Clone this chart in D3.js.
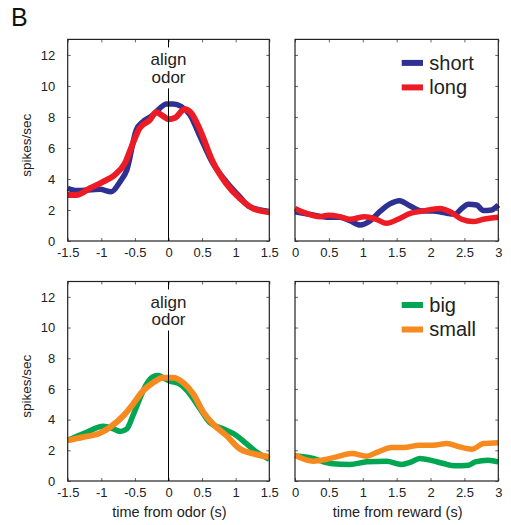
<!DOCTYPE html>
<html>
<head>
<meta charset="utf-8">
<script src="https://cdn.jsdelivr.net/npm/d3@7"></script>
<style>
  body { margin: 0; background: #fff; }
  svg { display: block; font-family: "Liberation Sans", Arial, sans-serif; }
</style>
</head>
<body>
<div id="app"></div>
<script>
// values (time in s, rate in spikes/sec)
const shortOdorT = [-1.5, -1.37, -1.02, -0.85, -0.72, -0.62, -0.48, -0.38, -0.23, -0.13, -0.03, 0.07, 0.19, 0.32, 0.47, 0.66, 0.86, 1.06, 1.21, 1.5];
const shortOdorR = [3.4, 3.25, 3.33, 3.18, 3.83, 4.58, 7.16, 7.7, 8.13, 8.56, 8.84, 8.84, 8.67, 8.13, 6.73, 5.0, 3.83, 2.86, 2.2, 1.9];
const longOdorT = [-1.5, -1.37, -1.17, -0.97, -0.8, -0.65, -0.53, -0.43, -0.28, -0.18, -0.08, 0.0, 0.1, 0.24, 0.34, 0.47, 0.66, 0.86, 1.06, 1.26, 1.5];
const longOdorR = [2.97, 2.97, 3.4, 3.83, 4.26, 5.0, 6.3, 7.27, 7.8, 8.3, 8.05, 7.85, 7.95, 8.5, 8.24, 7.16, 5.1, 3.7, 2.75, 2.1, 1.85];

const shortRewardT = [0, 0.27, 0.47, 0.66, 0.81, 0.96, 1.11, 1.25, 1.4, 1.54, 1.7, 1.87, 2.04, 2.19, 2.36, 2.46, 2.56, 2.68, 2.78, 2.9, 3.0];
const shortRewardR = [1.89, 1.68, 1.53, 1.53, 1.31, 1.03, 1.31, 1.89, 2.39, 2.6, 2.26, 1.94, 1.94, 1.83, 1.72, 2.1, 2.37, 2.32, 1.96, 2.0, 2.32];
const longRewardT = [0, 0.17, 0.37, 0.49, 0.66, 0.81, 1.03, 1.2, 1.35, 1.52, 1.7, 1.89, 2.14, 2.29, 2.46, 2.63, 2.78, 3.0];
const longRewardR = [2.1, 1.78, 1.57, 1.66, 1.57, 1.4, 1.57, 1.4, 1.14, 1.4, 1.78, 1.94, 2.1, 1.89, 1.4, 1.25, 1.4, 1.53];

const bigOdorT = [-1.5, -1.22, -0.97, -0.82, -0.72, -0.62, -0.53, -0.43, -0.33, -0.23, -0.15, -0.08, 0.02, 0.17, 0.32, 0.47, 0.61, 0.81, 1.01, 1.16, 1.31, 1.5];
const bigOdorR = [2.65, 3.18, 3.57, 3.4, 3.23, 3.4, 4.26, 5.33, 6.3, 6.8, 6.88, 6.73, 6.52, 6.3, 5.66, 4.69, 3.83, 3.4, 2.97, 2.43, 1.89, 1.42];
const smallOdorT = [-1.5, -1.27, -1.02, -0.87, -0.67, -0.53, -0.38, -0.23, -0.08, 0.07, 0.22, 0.37, 0.52, 0.66, 0.86, 1.06, 1.26, 1.5];
const smallOdorR = [2.65, 2.86, 3.12, 3.5, 4.26, 5.0, 5.87, 6.4, 6.73, 6.73, 6.4, 5.66, 4.47, 3.72, 2.97, 2.1, 1.78, 1.57];

const bigRewardT = [0, 0.27, 0.52, 0.81, 1.06, 1.35, 1.57, 1.7, 1.84, 2.04, 2.19, 2.36, 2.56, 2.66, 2.85, 3.0];
const bigRewardR = [1.64, 1.47, 1.14, 1.08, 1.25, 1.29, 1.08, 1.21, 1.47, 1.31, 1.14, 0.99, 1.03, 1.25, 1.36, 1.25];
const smallRewardT = [0, 0.27, 0.47, 0.61, 0.84, 1.06, 1.2, 1.43, 1.6, 1.84, 2.04, 2.24, 2.43, 2.61, 2.78, 3.0];
const smallRewardR = [1.68, 1.29, 1.42, 1.57, 1.79, 1.62, 1.85, 2.18, 2.18, 2.33, 2.33, 2.44, 2.22, 2.07, 2.44, 2.5];

const odorTicks = [-1.5, -1, -0.5, 0, 0.5, 1, 1.5];
const rewardTicks = [0, 0.5, 1, 1.5, 2, 2.5, 3];
const rateTicks = [0, 2, 4, 6, 8, 10, 12];

const colors = { short: "#2e3192", long: "#ed1c24", big: "#00a651", small: "#f68a1e" };

const width = 511, height = 525;
const cols = [{ x0: 67.7, x1: 269.3 }, { x0: 295, x1: 498.3 }];
const rows = [{ y0: 39.4, y1: 241 }, { y0: 281.5, y1: 481 }];

const fmt = (d) => String(d); // plain hyphen for negatives, like the original

const svg = d3.create("svg").attr("width", width).attr("height", height);

svg.append("text")
  .attr("x", 11).attr("y", 26)
  .style("font-size", "25px")
  .attr("fill", "#111")
  .text("B");

const zip = (t, r) => t.map((d, i) => [d, r[i]]);

const panels = [
  { row: 0, col: 0, domain: [-1.5, 1.5], ticks: odorTicks, align: true,
    series: [{ key: "short", data: zip(shortOdorT, shortOdorR), w: 5.5 },
             { key: "long", data: zip(longOdorT, longOdorR), w: 6 }] },
  { row: 0, col: 1, domain: [0, 3], ticks: rewardTicks, legend: ["short", "long"],
    series: [{ key: "short", data: zip(shortRewardT, shortRewardR), w: 5.5 },
             { key: "long", data: zip(longRewardT, longRewardR), w: 5.5 }] },
  { row: 1, col: 0, domain: [-1.5, 1.5], ticks: odorTicks, align: true, xlabel: "time from odor (s)",
    series: [{ key: "big", data: zip(bigOdorT, bigOdorR), w: 5.5 },
             { key: "small", data: zip(smallOdorT, smallOdorR), w: 6 }] },
  { row: 1, col: 1, domain: [0, 3], ticks: rewardTicks, legend: ["big", "small"], xlabel: "time from reward (s)",
    series: [{ key: "big", data: zip(bigRewardT, bigRewardR), w: 5.5 },
             { key: "small", data: zip(smallRewardT, smallRewardR), w: 5.5 }] },
];

panels.forEach((p) => {
  const { x0, x1 } = cols[p.col];
  const { y0, y1 } = rows[p.row];
  const x = d3.scaleLinear().domain(p.domain).range([x0, x1]);
  const y = d3.scaleLinear().domain([0, 13]).range([y1, y0]);
  const g = svg.append("g");

  // data lines
  const line = d3.line().x((d) => x(d[0])).y((d) => y(d[1])).curve(d3.curveMonotoneX);
  p.series.forEach((s) => {
    g.append("path")
      .datum(s.data)
      .attr("fill", "none")
      .attr("stroke", colors[s.key])
      .attr("stroke-width", s.w)
      .attr("stroke-linejoin", "round")
      .attr("d", line);
  });

  // inward ticks on all four sides
  const bottom = g.append("g").attr("transform", `translate(0,${y1})`)
    .call(d3.axisBottom(x).tickValues(p.ticks).tickSize(-3).tickPadding(7).tickFormat(fmt));
  const top = g.append("g").attr("transform", `translate(0,${y0})`)
    .call(d3.axisTop(x).tickValues(p.ticks).tickSize(-3).tickFormat(""));
  const left = g.append("g").attr("transform", `translate(${x0},0)`)
    .call(d3.axisLeft(y).tickValues(rateTicks).tickSize(-3).tickPadding(12.5)
      .tickFormat(p.col === 0 ? fmt : ""));
  const right = g.append("g").attr("transform", `translate(${x1},0)`)
    .call(d3.axisRight(y).tickValues(rateTicks).tickSize(-3).tickFormat(""));

  [bottom, top, left, right].forEach((a) => {
    a.select(".domain").remove();
    a.selectAll(".tick line").attr("stroke", "#666");
    a.selectAll("text")
      .attr("fill", "#222")
      .style("font-size", "13px")
      .style("font-family", "'Liberation Sans', Arial, sans-serif");
  });

  g.append("rect")
    .attr("x", x0).attr("y", y0)
    .attr("width", x1 - x0).attr("height", y1 - y0)
    .attr("fill", "none")
    .attr("stroke", "#222")
    .attr("stroke-width", 1.2);

  if (p.align) {
    g.append("line")
      .attr("x1", x(0)).attr("x2", x(0))
      .attr("y1", y0).attr("y2", y1)
      .attr("stroke", "#000")
      .attr("stroke-width", 1);
    // gap in the marker line behind the label
    g.append("rect")
      .attr("x", x(0) - 2).attr("y", y0 + 8)
      .attr("width", 4).attr("height", 41)
      .attr("fill", "#fff");
    const label = g.append("text")
      .attr("text-anchor", "middle")
      .style("font-size", "17px")
      .attr("fill", "#222");
    label.append("tspan").attr("x", x(0)).attr("y", y0 + 26).text("align");
    label.append("tspan").attr("x", x(0)).attr("y", y0 + 43.5).text("odor");
  }

  if (p.col === 0) {
    svg.append("text")
      .attr("transform", `translate(31,${(y0 + y1) / 2 + 5}) rotate(-90)`)
      .attr("text-anchor", "middle")
      .style("font-size", "13.5px")
      .attr("fill", "#222")
      .text("spikes/sec");
  }

  if (p.xlabel) {
    svg.append("text")
      .attr("x", (x0 + x1) / 2 + 1).attr("y", 517)
      .attr("text-anchor", "middle")
      .style("font-size", "14.5px")
      .attr("fill", "#222")
      .text(p.xlabel);
  }

  if (p.legend) {
    p.legend.forEach((k, i) => {
      const ly = y0 + 23.5 + i * 24.5;
      g.append("line")
        .attr("x1", 401.7).attr("x2", 423)
        .attr("y1", ly).attr("y2", ly)
        .attr("stroke", colors[k])
        .attr("stroke-width", 6);
      g.append("text")
        .attr("x", 429.3).attr("y", ly + 6.8)
        .style("font-size", "20px")
        .attr("fill", "#222")
        .text(k);
    });
  }
});

document.getElementById("app").append(svg.node());
</script>
</body>
</html>
